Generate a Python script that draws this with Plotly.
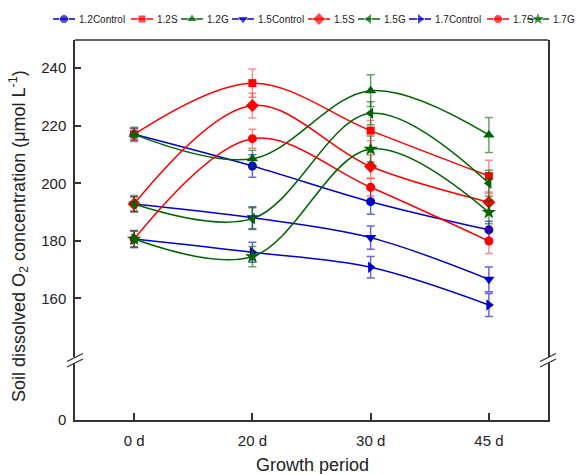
import plotly.graph_objects as go

categories = ["0 d", "20 d", "30 d", "45 d"]
x_pos = [0, 1, 2, 3]

names = ["1.2Control", "1.2S", "1.2G", "1.5Control", "1.5S", "1.5G", "1.7Control", "1.7S", "1.7G"]
v_12c = [217.0, 206.0, 193.6, 183.8]
v_12s = [217.0, 234.8, 218.3, 202.5]
v_12g = [217.0, 208.5, 232.2, 216.8]
v_15c = [192.8, 188.0, 181.1, 166.6]
v_15s = [192.8, 227.0, 205.8, 193.4]
v_15g = [192.8, 187.7, 224.3, 200.0]
v_17c = [180.6, 176.0, 170.8, 157.7]
v_17s = [180.6, 215.5, 198.6, 179.9]
v_17g = [180.6, 174.5, 211.9, 189.9]

e_12c = [2.0, 3.9, 4.4, 3.0]
e_12s = [2.0, 4.9, 3.5, 5.5]
e_12g = [2.5, 3.0, 5.5, 6.1]
e_15c = [2.5, 3.8, 4.0, 4.3]
e_15s = [2.5, 4.3, 4.0, 3.0]
e_15g = [2.9, 3.8, 4.0, 4.5]
e_17c = [2.8, 3.5, 3.7, 4.0]
e_17s = [2.8, 3.3, 3.0, 4.3]
e_17g = [3.0, 3.5, 4.5, 4.0]

values = [v_12c, v_12s, v_12g, v_15c, v_15s, v_15g, v_17c, v_17s, v_17g]
errors = [e_12c, e_12s, e_12g, e_15c, e_15s, e_15g, e_17c, e_17s, e_17g]

BLUE, RED, GREEN = "#0000CD", "#FF0000", "#006400"
EB = {BLUE: "rgba(0,0,205,0.6)", RED: "rgba(255,0,0,0.45)", GREEN: "rgba(0,100,0,0.6)"}
colors = [BLUE, RED, GREEN] * 3
symbols = ["circle", "square", "triangle-up", "triangle-down", "diamond",
           "triangle-left", "triangle-right", "circle", "star"]
msizes = [9, 8, 10, 10, 10, 10, 10, 9, 11]

# custom legend layout (pixel positions of legend marker centres)
leg_px = [64, 142, 192, 243, 319, 369, 420, 498, 538]
LEG_Y = 19
LEG_HALF = 11

W, H = 584, 474
PL, PR, PT, PB = 75, 548, 40, 420   # plot frame in pixels


def X(p):
    return p / W


def Y(p):
    return (H - p) / H


fig = go.Figure()

# empty trace so the lower (0-20) axis segment is drawn
fig.add_trace(go.Scatter(x=[], y=[], xaxis="x", yaxis="y", showlegend=False, hoverinfo="skip"))

for i, (nm, vals, errs) in enumerate(zip(names, values, errors)):
    c = colors[i]
    fig.add_trace(go.Scatter(
        x=x_pos, y=vals, name=nm, mode="lines+markers",
        xaxis="x", yaxis="y2", showlegend=False,
        line=dict(color=c, width=1.5, shape="spline", smoothing=1),
        marker=dict(symbol=symbols[i], size=msizes[i], color=c),
        error_y=dict(type="data", array=errs, visible=True, color=EB[c], thickness=1.5, width=4),
    ))

# legend glyphs on a pixel-coordinate overlay axis
annotations = []
for i, nm in enumerate(names):
    m = leg_px[i]
    c = colors[i]
    fig.add_trace(go.Scatter(
        x=[m - LEG_HALF, m, m + LEG_HALF], y=[LEG_Y] * 3, mode="lines+markers",
        xaxis="x3", yaxis="y3", showlegend=False, hoverinfo="skip",
        line=dict(color=c, width=1.5),
        marker=dict(symbol=symbols[i], size=[0, msizes[i], 0], color=c),
    ))
    annotations.append(dict(text=nm, xref="x3", yref="y3", x=m + LEG_HALF + 2, y=LEG_Y,
                            xanchor="left", yanchor="middle", showarrow=False,
                            font=dict(size=10, color="#222")))

axcol = "#333333"
shapes = [
    dict(type="line", xref="paper", yref="paper", x0=X(PL), x1=X(PR), y0=Y(PT), y1=Y(PT),
         line=dict(color=axcol, width=1.5)),
]
for xc in (PL, PR):
    for dy in (0, 5.5):
        shapes.append(dict(type="line", xref="paper", yref="paper",
                           x0=X(xc - 8), x1=X(xc + 8),
                           y0=Y(361.5 + dy), y1=Y(353.5 + dy),
                           line=dict(color=axcol, width=1.3)))

annotations += [
    dict(text="Soil dissolved O<sub>2</sub> concentration (μmol L<sup>-1</sup>)",
         xref="paper", yref="paper", x=X(18), y=Y(236),
         xanchor="center", yanchor="middle", textangle=-90,
         showarrow=False, font=dict(size=18, color="#222")),
    dict(text="Growth period", xref="paper", yref="paper",
         x=X(312), y=Y(465), xanchor="center", yanchor="middle",
         showarrow=False, font=dict(size=18, color="#222")),
]

common = dict(ticks="inside", tickwidth=1.5, tickcolor=axcol,
              showline=True, linecolor=axcol, linewidth=1.5,
              showgrid=False, zeroline=False, tickfont=dict(size=15),
              fixedrange=True, automargin=False)

fig.update_layout(
    width=W, height=H,
    margin=dict(l=0, r=0, t=0, b=0, autoexpand=False),
    paper_bgcolor="white", plot_bgcolor="rgba(0,0,0,0)",
    font=dict(family="Arial, Liberation Sans", size=15, color="#222"),
    showlegend=False,
    xaxis=dict(domain=[X(PL), X(PR)], range=[-0.5, 3.5], anchor="y",
               tickmode="array", tickvals=x_pos, ticktext=categories,
               ticklen=7, mirror=False, ticklabelstandoff=6, **common),
    yaxis=dict(domain=[Y(PB), Y(363)], range=[0, 20], anchor="x",
               tickmode="array", tickvals=[0], ticktext=["0"],
               ticklen=6, mirror=True, ticklabelstandoff=4, **common),
    yaxis2=dict(domain=[Y(357), Y(PT)], range=[139.6, 249.8], anchor="x",
                tickmode="array", tickvals=[160, 180, 200, 220, 240],
                ticklen=6, mirror=True, ticklabelstandoff=4, **common),
    xaxis3=dict(domain=[0, 1], range=[0, W], anchor="y3", visible=False,
                fixedrange=True, automargin=False),
    yaxis3=dict(domain=[0, 1], range=[H, 0], anchor="x3", visible=False,
                fixedrange=True, automargin=False),
    shapes=shapes,
    annotations=annotations,
)

fig.write_html("out.html")
